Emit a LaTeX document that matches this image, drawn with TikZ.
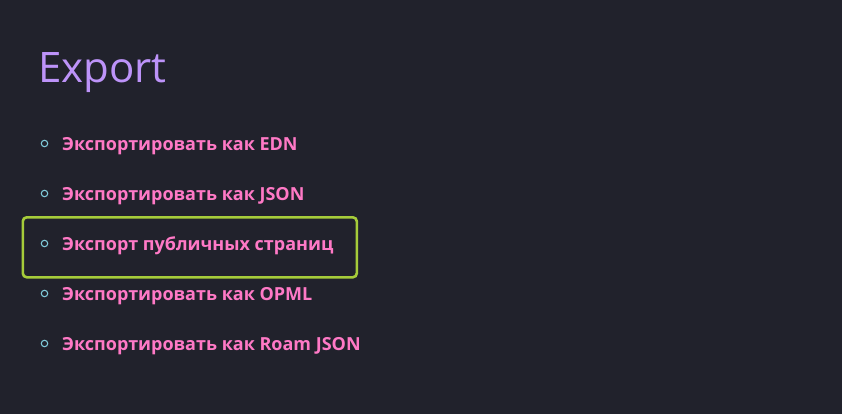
\documentclass[tikz,border=0pt]{standalone}
\usepackage{fontspec}
\setmainfont{Open Sans}
\definecolor{bg}{HTML}{21222C}
\definecolor{ttl}{HTML}{BD93F9}
\definecolor{pink}{HTML}{FF79C6}
\definecolor{cyanb}{HTML}{7FC8D8}
\definecolor{grn}{HTML}{A6CC3A}
\begin{document}
\begin{tikzpicture}[x=1pt,y=-1pt,
  itemtext/.style={anchor=base west,inner sep=0pt,text=pink,font=\fontsize{18}{20}\selectfont\bfseries},
  bulletdot/.style={circle,draw=cyanb,line width=1.1pt,minimum size=6.5pt,inner sep=0pt},
  hlbox/.style={draw=grn,line width=2.6pt,rounded corners=4pt}]
\fill[bg] (0,0) rectangle (842,414);
\useasboundingbox (0,0) rectangle (842,414);
\node[anchor=base west,inner sep=0pt,text=ttl,font=\fontsize{42}{46}\selectfont] (title) at (38,83) {Export};
\node[hlbox,minimum width=334pt,minimum height=60pt,anchor=north west] (box) at (21.5,216) {};
\foreach \i/\t [count=\n] in {150/Экспортировать как EDN,200/Экспортировать как JSON,250/Экспорт публичных страниц,300/Экспортировать как OPML,350/Экспортировать как Roam JSON}{
  \node[bulletdot] (b\n) at (44.5,\i-6.5) {};
  \node[itemtext] (t\n) at (62,\i) {\t};
}
\end{tikzpicture}
\end{document}
